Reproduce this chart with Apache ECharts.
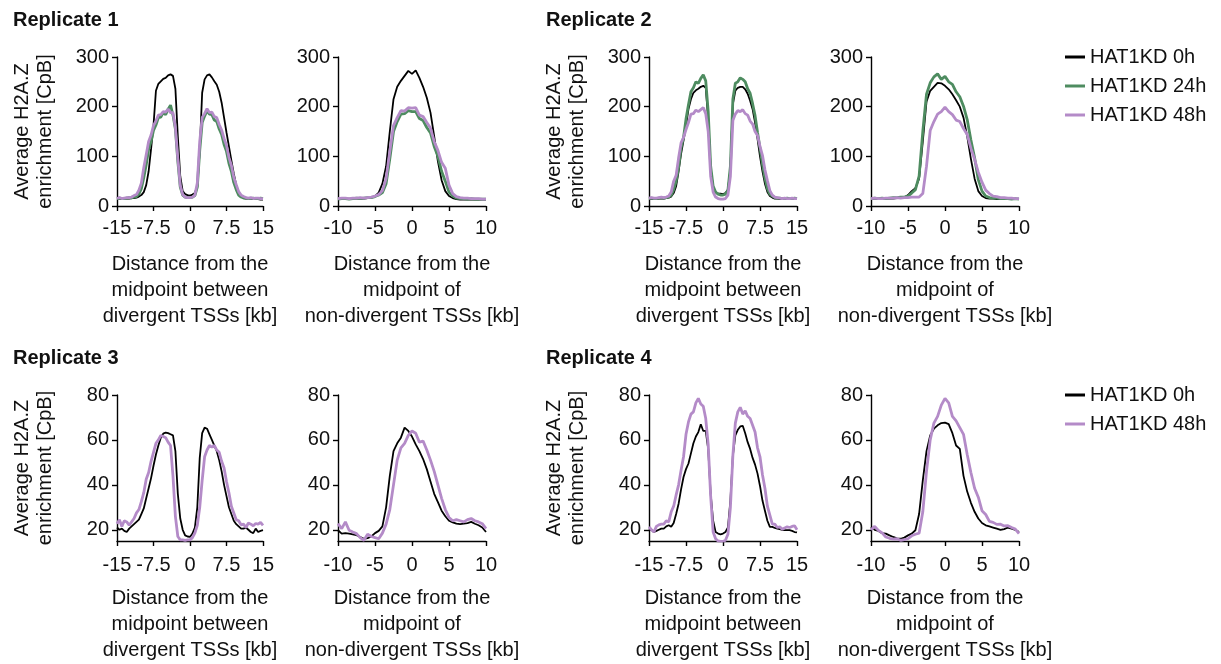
<!DOCTYPE html>
<html>
<head>
<meta charset="utf-8">
<script src="https://cdn.jsdelivr.net/npm/echarts@6/dist/echarts.min.js"></script>
<style>
html,body{margin:0;padding:0;background:#fff;}
#c{width:1221px;height:664px;}
</style>
</head>
<body>
<div id="c"></div>
<script>
// ---------- categories (distance, kb) ----------
const xDiv = [-15,-14.5,-14,-13.5,-13,-12.5,-12,-11.5,-11,-10.5,
  -10,-9.5,-9,-8.5,-8,-7.5,-7,-6.5,-6,-5.5,
  -5,-4.5,-4,-3.5,-3,-2.5,-2,-1.5,-1,-0.5,
  0,
  0.5,1,1.5,2,2.5,3,3.5,4,4.5,5,
  5.5,6,6.5,7,7.5,8,8.5,9,9.5,10,
  10.5,11,11.5,12,12.5,13,13.5,14,14.5,15];
const xNon = [-10,-9.5,-9,-8.5,-8,-7.5,-7,-6.5,-6,-5.5,
  -5,-4.5,-4,-3.5,-3,-2.5,-2,-1.5,-1,-0.5,
  0,
  0.5,1,1.5,2,2.5,3,3.5,4,4.5,5,
  5.5,6,6.5,7,7.5,8,8.5,9,9.5,10];

// ---------- tick labels ----------
const divTicks = [-15,-7.5,0,7.5,15];
const nonTicks = [-10,-5,0,5,10];
const yTicksTop = [0,100,200,300];
const yTicksBottom = [20,40,60,80];

// ---------- series names ----------
const names = ['HAT1KD 0h','HAT1KD 24h','HAT1KD 48h'];

// ---------- Replicate 1 ----------
const r1DivBlack = [15,15,14,15,15,15,16,16,17,19,
  22,28,42,70,115,162,232,246,251,256,
  258,263,265,262,236,140,60,30,24,22,
  21,
  23,26,40,112,228,255,263,265,259,251,
  244,230,208,178,148,120,92,65,42,27,
  19,16,15,15,14,14,14,14,13,13];
const r1DivGreen = [15,16,15,15,16,17,16,18,19,24,
  35,57,83,114,130,152,163,178,179,188,
  184,195,203,183,155,90,38,22,18,17,
  17,
  18,21,38,112,168,181,192,185,184,173,
  170,155,144,124,110,86,70,47,33,22,
  18,16,16,15,15,16,15,15,16,15];
const r1DivPurple = [15,17,15,16,17,17,18,21,23,32,
  46,77,103,130,143,162,171,183,184,190,
  189,195,188,188,158,96,42,23,18,17,
  17,
  18,22,46,130,178,186,196,188,189,180,
  178,164,153,136,122,98,82,58,43,29,
  22,19,17,16,17,15,16,16,15,15];
const r1NonBlack = [14,14,14,14,15,15,15,15,16,17,
  20,27,45,80,150,215,240,252,262,272,
  266,
  273,258,240,218,188,140,90,52,30,20,
  16,14,13,13,13,13,13,13,13,13];
const r1NonGreen = [14,15,15,14,15,16,15,16,17,17,
  19,22,27,45,95,150,170,185,186,192,
  190,
  190,176,172,158,147,120,100,70,50,28,
  20,16,15,15,14,15,14,14,14,14];
const r1NonPurple = [15,16,16,15,16,16,17,16,17,18,
  20,23,31,55,110,162,178,192,191,198,
  197,
  198,183,180,168,157,130,112,88,76,42,
  25,19,17,16,16,15,15,15,14,14];

// ---------- Replicate 2 ----------
const r2DivBlack = [14,14,14,14,15,15,15,16,17,19,
  26,40,70,105,132,162,195,215,228,233,
  236,240,242,238,175,75,38,28,25,25,
  24,
  26,33,75,205,232,238,240,240,235,226,
  212,195,168,135,100,70,45,28,20,17,
  15,15,14,14,14,14,14,14,14,14];
const r2DivGreen = [15,16,15,15,16,17,16,17,18,22,
  33,50,78,117,138,175,204,230,238,250,
  247,257,264,252,190,80,40,28,24,22,
  22,
  24,32,80,215,247,250,258,255,250,236,
  227,206,182,148,117,84,56,35,24,20,
  17,16,16,15,15,16,15,15,16,15];
const r2DivPurple = [16,17,16,16,17,18,17,18,20,28,
  50,62,97,127,138,154,168,185,186,193,
  190,194,198,186,150,60,28,18,15,14,
  14,
  15,22,60,172,185,192,190,194,186,183,
  171,165,150,142,120,102,73,51,31,22,
  18,17,16,15,16,15,15,16,15,15];
const r2NonBlack = [14,14,14,15,15,15,15,16,16,17,
  22,30,36,55,130,210,232,240,248,247,
  242,
  235,225,213,200,178,140,95,55,30,20,
  16,15,15,14,14,14,14,14,14,14];
const r2NonGreen = [15,16,15,16,15,16,17,17,18,18,
  20,26,33,60,150,225,248,260,266,255,
  261,
  250,245,230,220,201,174,133,97,53,30,
  20,17,16,16,15,15,15,14,15,14];
const r2NonPurple = [15,16,15,15,16,16,16,17,16,17,
  17,18,18,18,25,80,152,170,185,190,
  199,
  190,184,173,170,156,144,116,94,68,48,
  32,25,20,19,17,17,16,16,15,15];

// ---------- Replicate 3 ----------
const r3DivBlack = [21,20,20.5,19.5,19,20.5,21.5,22.5,23.5,24.5,
  27,29.5,34,38.5,43,48.5,53.5,57.5,61,62.8,
  63.3,63,62.5,62,55,36,25,20,17.5,17,
  16.8,
  18.3,21,30,52,63,65.5,65,62.5,60,57.5,
  55,51,46,40,35,30,27,24,22.5,21.5,
  20.5,20.5,21,20,19,18.5,20.5,19,19.5,19.8];
const r3DivPurple = [22.7,24.5,21.5,24,23.5,22,23.5,25,27.5,29,
  32.5,36.5,42.5,45.5,50.5,54.5,58.5,60,62,61.5,
  61,59,57.5,44,26,17,15.5,15.5,15.3,15.5,
  15.5,
  16.5,18.5,22,30,42,52.5,55.5,57.5,56.8,57.6,
  55.5,54.5,50.5,47.5,41.5,36.5,30.5,27.5,24.5,24,
  22.2,22.5,21,23,22.5,21.8,22.8,22.5,23.3,22];
const r3NonBlack = [19.8,18.3,18.5,18.3,18,17.6,16.8,16,16.3,17,
  18.5,19.5,21.5,30,44,55,58.5,61,65.5,64,
  61.5,
  58,55,51.5,47,41.5,36,32.3,28.5,26,24,
  23.3,22.7,22.5,22.7,23,23.5,22.7,22,21,19];
const r3NonPurple = [22.7,20.5,23.5,19.8,19,18.3,16.5,15.3,18,17,
  16.5,16,18.5,22.5,29,40,51,56.5,58.5,62,
  64,
  63,59,59.5,55.5,51,46,40,34,29,25.5,
  24,24.5,24,23.5,24.5,25,24,23.5,22.7,20.5];

// ---------- Replicate 4 ----------
const r4DivBlack = [19.8,20,19,19.5,20,20.5,20.5,21.5,22,21.3,
  23,27,31.6,38,43.5,47,49.5,54,58.5,61.5,
  63.5,67,64,64,56,36,24,19,18.3,18,
  18.3,
  19,21,33,53,62,64.5,66,66.3,63,59,
  56,52,49,45,39.5,33,28.5,24,21.3,21.3,
  20.8,20.5,20.3,20,19.8,19.8,19.8,19.5,19,18.8];
const r4DivPurple = [21.3,20,19,21.5,22.2,22.5,22.5,24,23.5,28,
  30.5,35.5,40,46.5,52.5,62.5,68,71.5,72.5,76.5,
  78.5,76,75,69.5,58,35,19,16,15,14.8,
  14.8,
  15.3,18,30,53,67.5,72.5,74.5,71.5,73,70.5,
  69.5,66.5,63.5,56.5,52.5,44.5,38.5,30.5,26.5,22.5,
  22.5,21,21.3,20.2,20.8,21.3,21,21.5,21.8,20];
const r4NonBlack = [21.3,20,19.5,18.5,18.3,17.5,16.8,16.2,16,16.5,
  17.5,18.3,19.8,27,42,55,62,65,66.5,67.5,
  67.7,
  67,63,57.5,56,44,37,32,28,25,23,
  22,21.5,21,20.5,20,20.3,21,20.5,20,19];
const r4NonPurple = [20,21.5,19.7,18.6,16.8,16.2,15.8,16,15.3,15.6,
  16,17.3,18,18.5,28,46,60,67.5,70.5,75.5,
  78.5,
  76.5,70.5,68.5,65.5,62.5,53.5,45.5,38.5,34.5,28.5,
  26.8,23.7,23.3,22.4,22.5,21.7,21.8,21,20.3,18.3];

// ---------- styles ----------
const FONT = 'Liberation Sans, Arial, Helvetica, sans-serif';
const TXT = '#111';
const COL = {black:'#000000', green:'#4e8c60', purple:'#b48bc8'};
const LW = {black:1.8, green:2.8, purple:2.8};

const colLeft = [117, 338, 649, 871];
const colWidth = [146, 148, 148, 148];
const rowTop = [57, 395];
const rowHeight = [149, 147];

const panels = [
  {row:0,col:0,div:true, lines:[['black',r1DivBlack],['green',r1DivGreen],['purple',r1DivPurple]]},
  {row:0,col:1,div:false,lines:[['black',r1NonBlack],['green',r1NonGreen],['purple',r1NonPurple]]},
  {row:0,col:2,div:true, lines:[['black',r2DivBlack],['green',r2DivGreen],['purple',r2DivPurple]]},
  {row:0,col:3,div:false,lines:[['black',r2NonBlack],['green',r2NonGreen],['purple',r2NonPurple]]},
  {row:1,col:0,div:true, lines:[['black',r3DivBlack],['purple',r3DivPurple]]},
  {row:1,col:1,div:false,lines:[['black',r3NonBlack],['purple',r3NonPurple]]},
  {row:1,col:2,div:true, lines:[['black',r4DivBlack],['purple',r4DivPurple]]},
  {row:1,col:3,div:false,lines:[['black',r4NonBlack],['purple',r4NonPurple]]}
];
const nameOf = {black:names[0], green:names[1], purple:names[2]};

const grids=[], xAxes=[], yAxes=[], series=[];
panels.forEach((p,i)=>{
  grids.push({left:colLeft[p.col], top:rowTop[p.row], width:colWidth[p.col], height:rowHeight[p.row], containLabel:false});
  const xs = p.div ? xDiv : xNon;
  xAxes.push({
    type:'value', gridIndex:i, position:'bottom',
    min: p.div ? -15 : -10, max: p.div ? 15 : 10, interval: p.div ? 7.5 : 5,
    axisLine:{show:true, onZero:false, lineStyle:{color:'#000', width:1.4}},
    axisTick:{show:true, inside:false, length:5, lineStyle:{color:'#000', width:1.4},
      customValues: p.div ? divTicks : nonTicks},
    axisLabel:{fontFamily:FONT, fontSize:20, color:TXT, margin: p.row===0 ? 12 : 14,
      customValues: p.div ? divTicks : nonTicks},
    splitLine:{show:false},
    name: p.div ? 'Distance from the\nmidpoint between\ndivergent TSSs [kb]' : 'Distance from the\nmidpoint of\nnon-divergent TSSs [kb]',
    nameLocation:'middle', nameGap: p.row===0 ? 45 : 44,
    nameTextStyle:{fontFamily:FONT, fontSize:20, color:TXT, lineHeight:26}
  });
  const top = p.row===0;
  const ya = {
    type:'value', gridIndex:i, position:'left',
    min: top ? 0 : 15, max: top ? 300 : 80,
    axisLine:{show:true, onZero:false, lineStyle:{color:'#000', width:1.4}},
    axisTick:{show:true, inside:false, length:5, lineStyle:{color:'#000', width:1.4},
      customValues: top ? yTicksTop : yTicksBottom},
    axisLabel:{fontFamily:FONT, fontSize:20, color:TXT, margin:8,
      customValues: top ? yTicksTop : yTicksBottom},
    splitLine:{show:false}
  };
  if (p.col===0 || p.col===2) {
    ya.name = 'Average H2A.Z\nenrichment [CpB]';
    ya.nameLocation = 'middle';
    ya.nameGap = 60;
    ya.nameTextStyle = {fontFamily:FONT, fontSize:20, color:TXT, lineHeight:23};
  }
  yAxes.push(ya);
  p.lines.forEach(([k,arr],j)=>{
    series.push({
      type:'line', name:nameOf[k], xAxisIndex:i, yAxisIndex:i,
      data: xs.map((x,n)=>[x,arr[n]]),
      symbol:'none', showSymbol:false, smooth:false,
      lineStyle:{color:COL[k], width:LW[k]},
      itemStyle:{color:COL[k]},
      z: 2 + j, silent:true, clip:true
    });
  });
});

const legendBase = {
  orient:'vertical', left:1065, icon:'rect', itemWidth:20, itemHeight:3, itemGap:9,
  padding:0, selectedMode:false,
  textStyle:{fontFamily:FONT, fontSize:20, color:TXT, lineHeight:20}
};

const titleStyle = {fontFamily:FONT, fontSize:20, fontWeight:'bold', color:TXT};
const option = {
  animation:false,
  backgroundColor:'#ffffff',
  title:[
    {text:'Replicate 1', left:13, top:10, padding:0, textStyle:titleStyle},
    {text:'Replicate 2', left:546, top:10, padding:0, textStyle:titleStyle},
    {text:'Replicate 3', left:13, top:348, padding:0, textStyle:titleStyle},
    {text:'Replicate 4', left:546, top:348, padding:0, textStyle:titleStyle}
  ],
  legend:[
    Object.assign({}, legendBase, {top:47, data:[names[0],names[1],names[2]]}),
    Object.assign({}, legendBase, {top:385, data:[names[0],names[2]]})
  ],
  grid:grids, xAxis:xAxes, yAxis:yAxes, series:series
};

const chart = echarts.init(document.getElementById('c'), null, {renderer:'canvas'});
chart.setOption(option);
</script>
</body>
</html>
